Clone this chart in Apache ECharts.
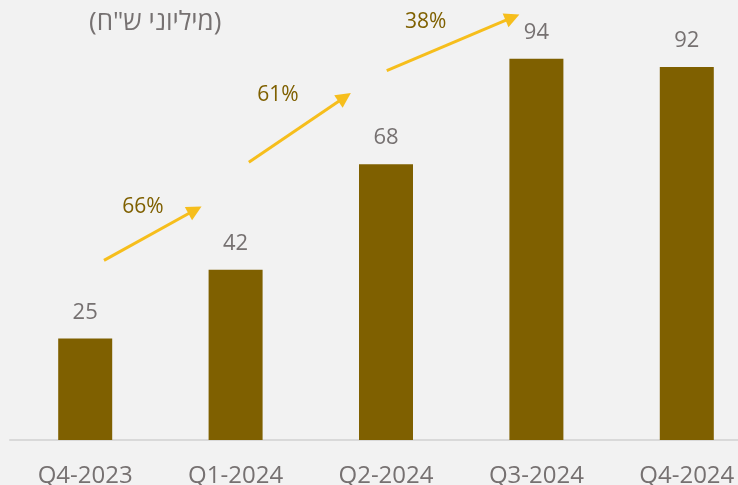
<!DOCTYPE html>
<html>
<head>
    <meta charset="utf-8">
    <title>ECharts</title>
    <script src="https://cdn.jsdelivr.net/npm/echarts@6/dist/echarts.min.js"></script>
    <style>
        html, body { margin: 0; padding: 0; background: #f2f2f2; }
    </style>
</head>
<body>

<div id="main" style="width: 738px;height:485px;"></div>
<script type="text/javascript">
    // data
    var quarters = ['Q4-2023', 'Q1-2024', 'Q2-2024', 'Q3-2024', 'Q4-2024'];
    var revenue = [25, 42, 68, 94, 92];
    var growthLabels = ['66%', '61%', '38%'];
    // arrows between bars: [x from, y from, x to, y to] in (category index, value) units
    var growthArrows = [
        [0.125, 44.3, 0.730, 56.7],
        [1.088, 68.5, 1.725, 84.5],
        [2.005, 91.1, 2.841, 104.2]
    ];
    var growthLabelPos = [
        [0.384, 57.5],
        [1.281, 85.0],
        [2.264, 103.0]
    ];

    var myChart = echarts.init(document.getElementById('main'));

    var font = '"Open Sans", "Noto Sans", sans-serif';
    var grey = '#767171';

    var arrowData = growthArrows.map(function (a) {
        return { coords: [[a[0], a[1]], [a[2], a[3]]] };
    });
    var labelData = growthLabelPos.map(function (p, i) {
        return { value: p, label: { formatter: growthLabels[i] } };
    });

    var option = {
        backgroundColor: '#f2f2f2',
        animation: false,
        title: {
            text: '(מיליוני ש"ח)',
            left: 84,
            top: 5,
            textStyle: { fontFamily: font, fontSize: 26, fontWeight: 'normal', color: grey }
        },
        grid: { left: 10, width: 752, top: 2, bottom: 45, outerBoundsMode: 'none' },
        xAxis: [
            {
                type: 'category',
                data: quarters,
                axisLine: { lineStyle: { color: '#d9d9d9', width: 2 } },
                axisTick: { show: false },
                axisLabel: { fontFamily: font, fontSize: 24, color: grey, margin: 24 }
            },
            {
                type: 'value',
                min: -0.5,
                max: 4.5,
                show: false
            }
        ],
        yAxis: {
            type: 'value',
            min: 0,
            max: 108,
            show: false,
            splitLine: { show: false }
        },
        series: [
            {
                type: 'bar',
                data: revenue,
                barWidth: 54,
                itemStyle: { color: '#7f6000' },
                label: {
                    show: true,
                    position: 'top',
                    distance: 15,
                    fontFamily: font,
                    fontSize: 22,
                    color: grey
                }
            },
            {
                type: 'lines',
                coordinateSystem: 'cartesian2d',
                xAxisIndex: 1,
                symbol: ['none', 'triangle'],
                symbolSize: 15,
                lineStyle: { color: '#f6be1c', width: 3, opacity: 1 },
                data: arrowData
            },
            {
                type: 'scatter',
                xAxisIndex: 1,
                symbolSize: 0,
                itemStyle: { opacity: 1 },
                data: labelData,
                label: {
                    show: true,
                    position: 'inside',
                    fontFamily: font,
                    fontSize: 21,
                    color: '#7f6000',
                    opacity: 1
                }
            }
        ]
    };
    myChart.setOption(option);
</script>
</body>
</html>
